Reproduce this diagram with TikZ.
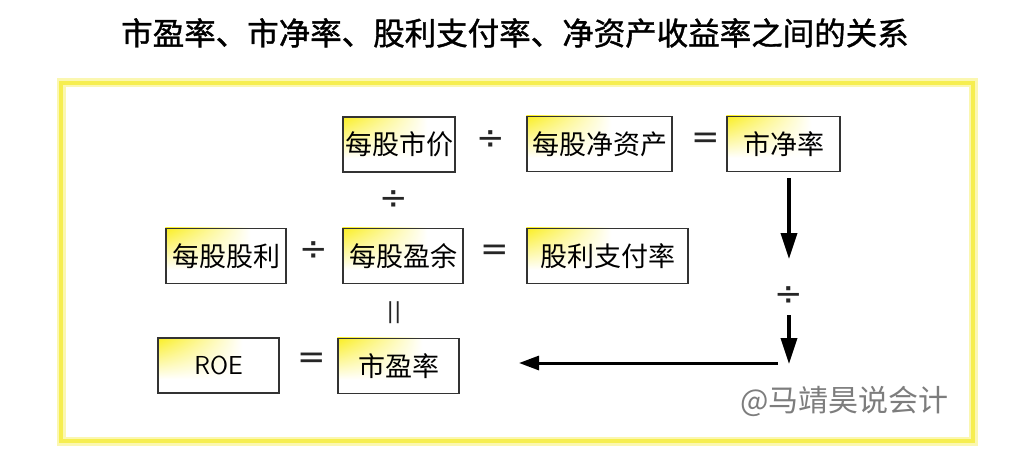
\documentclass[tikz,border=0pt]{standalone}
\usepackage{fontspec}
\newfontfamily\cjk{Noto Sans CJK SC}
\newfontfamily\cjkt[FakeBold=1.2]{Noto Sans CJK SC}
\newfontfamily\dv{DejaVu Sans}
\usetikzlibrary{arrows.meta,shadings,calc,backgrounds}
\definecolor{frameyellow}{RGB}{246,238,80}
\definecolor{boxyellow}{RGB}{250,238,30}
\definecolor{wm}{RGB}{125,125,125}
\tikzset{
  fbox/.style={draw=black!80, line width=1.4pt, minimum height=55pt, inner sep=0pt,
    font=\cjk\fontsize{27}{27}\selectfont, text=black},
  glow/.style={upper left=boxyellow, upper right=white, lower left=white, lower right=white},
  op/.style={font=\dv\fontsize{34}{34}\selectfont, inner sep=0pt, text=black!85},
  arr/.style={line width=3.5pt, -{Triangle[length=26pt,width=16pt]}},
  harr/.style={line width=3pt, -{Triangle[length=20pt,width=14pt]}},
}
\begin{document}
\begin{tikzpicture}[x=1pt,y=-1pt]
\useasboundingbox (0,0) rectangle (1024,468);
% frame
\draw[frameyellow!45, line width=9pt] (61,83) rectangle (973,441);
\draw[frameyellow, line width=4pt] (61,83) rectangle (973,441);
% title
\node[font=\cjkt\fontsize{31.5}{31.5}\selectfont] (title) at (515,33) {市盈率、市净率、股利支付率、净资产收益率之间的关系};
% boxes
\node[fbox, minimum width=112pt] (mgsj) at (399,144.5) {每股市价};
\node[fbox, minimum width=145pt] (mgjzc) at (599.5,144) {每股净资产};
\node[fbox, minimum width=113pt] (sjl) at (783.5,144) {市净率};
\node[fbox, minimum width=120pt] (mggl) at (226,256) {每股股利};
\node[fbox, minimum width=120pt] (mgyy) at (403,256) {每股盈余};
\node[fbox, minimum width=161pt] (glzfl) at (607.5,256) {股利支付率};
\node[fbox, minimum width=121pt, font=\sffamily\fontsize{26}{26}\selectfont] (roe) at (218.5,365.5) {ROE};
\node[fbox, minimum width=121pt] (syl) at (398.5,366) {市盈率};
% box shading behind
\begin{scope}[on background layer]
\fill[white] (0,0) rectangle (1024,468);
\foreach \n in {mgsj,mgjzc,sjl,mggl,mgyy,glzfl,roe,syl}{
  \shade[glow] (\n.north west) rectangle ($(\n.north west)+(85,42)$);
}
\end{scope}
% operators
\node[op] (d1) at (491,140) {÷};
\node[op] (e1) at (706,141) {=};
\node[op] (d2) at (394,200) {÷};
\node[op] (d3) at (314,251) {÷};
\node[op] (e2) at (495,253) {=};
\node[op, font=\dv\fontsize{22}{22}\selectfont] (p1) at (394,313) {||};
\node[op] (e3) at (312,361) {=};
\node[op] (d4) at (789,296) {÷};
\coordinate (c1) at (789,178);
\coordinate (c2) at (789,259);
\coordinate (c3) at (789,315);
\coordinate (c4) at (789,364);
\coordinate (c5) at (778,363);
\coordinate (c6) at (519,363);
% arrows
\draw[arr] (c1) -- (c2);
\draw[arr] (c3) -- (c4);
\draw[harr] (c5) -- (c6);
% watermark
\node[font=\cjk\fontsize{30}{30}\selectfont, text=wm, anchor=west, inner sep=0pt] (wmk) at (740,401) {@马靖昊说会计};
\end{tikzpicture}
\end{document}
